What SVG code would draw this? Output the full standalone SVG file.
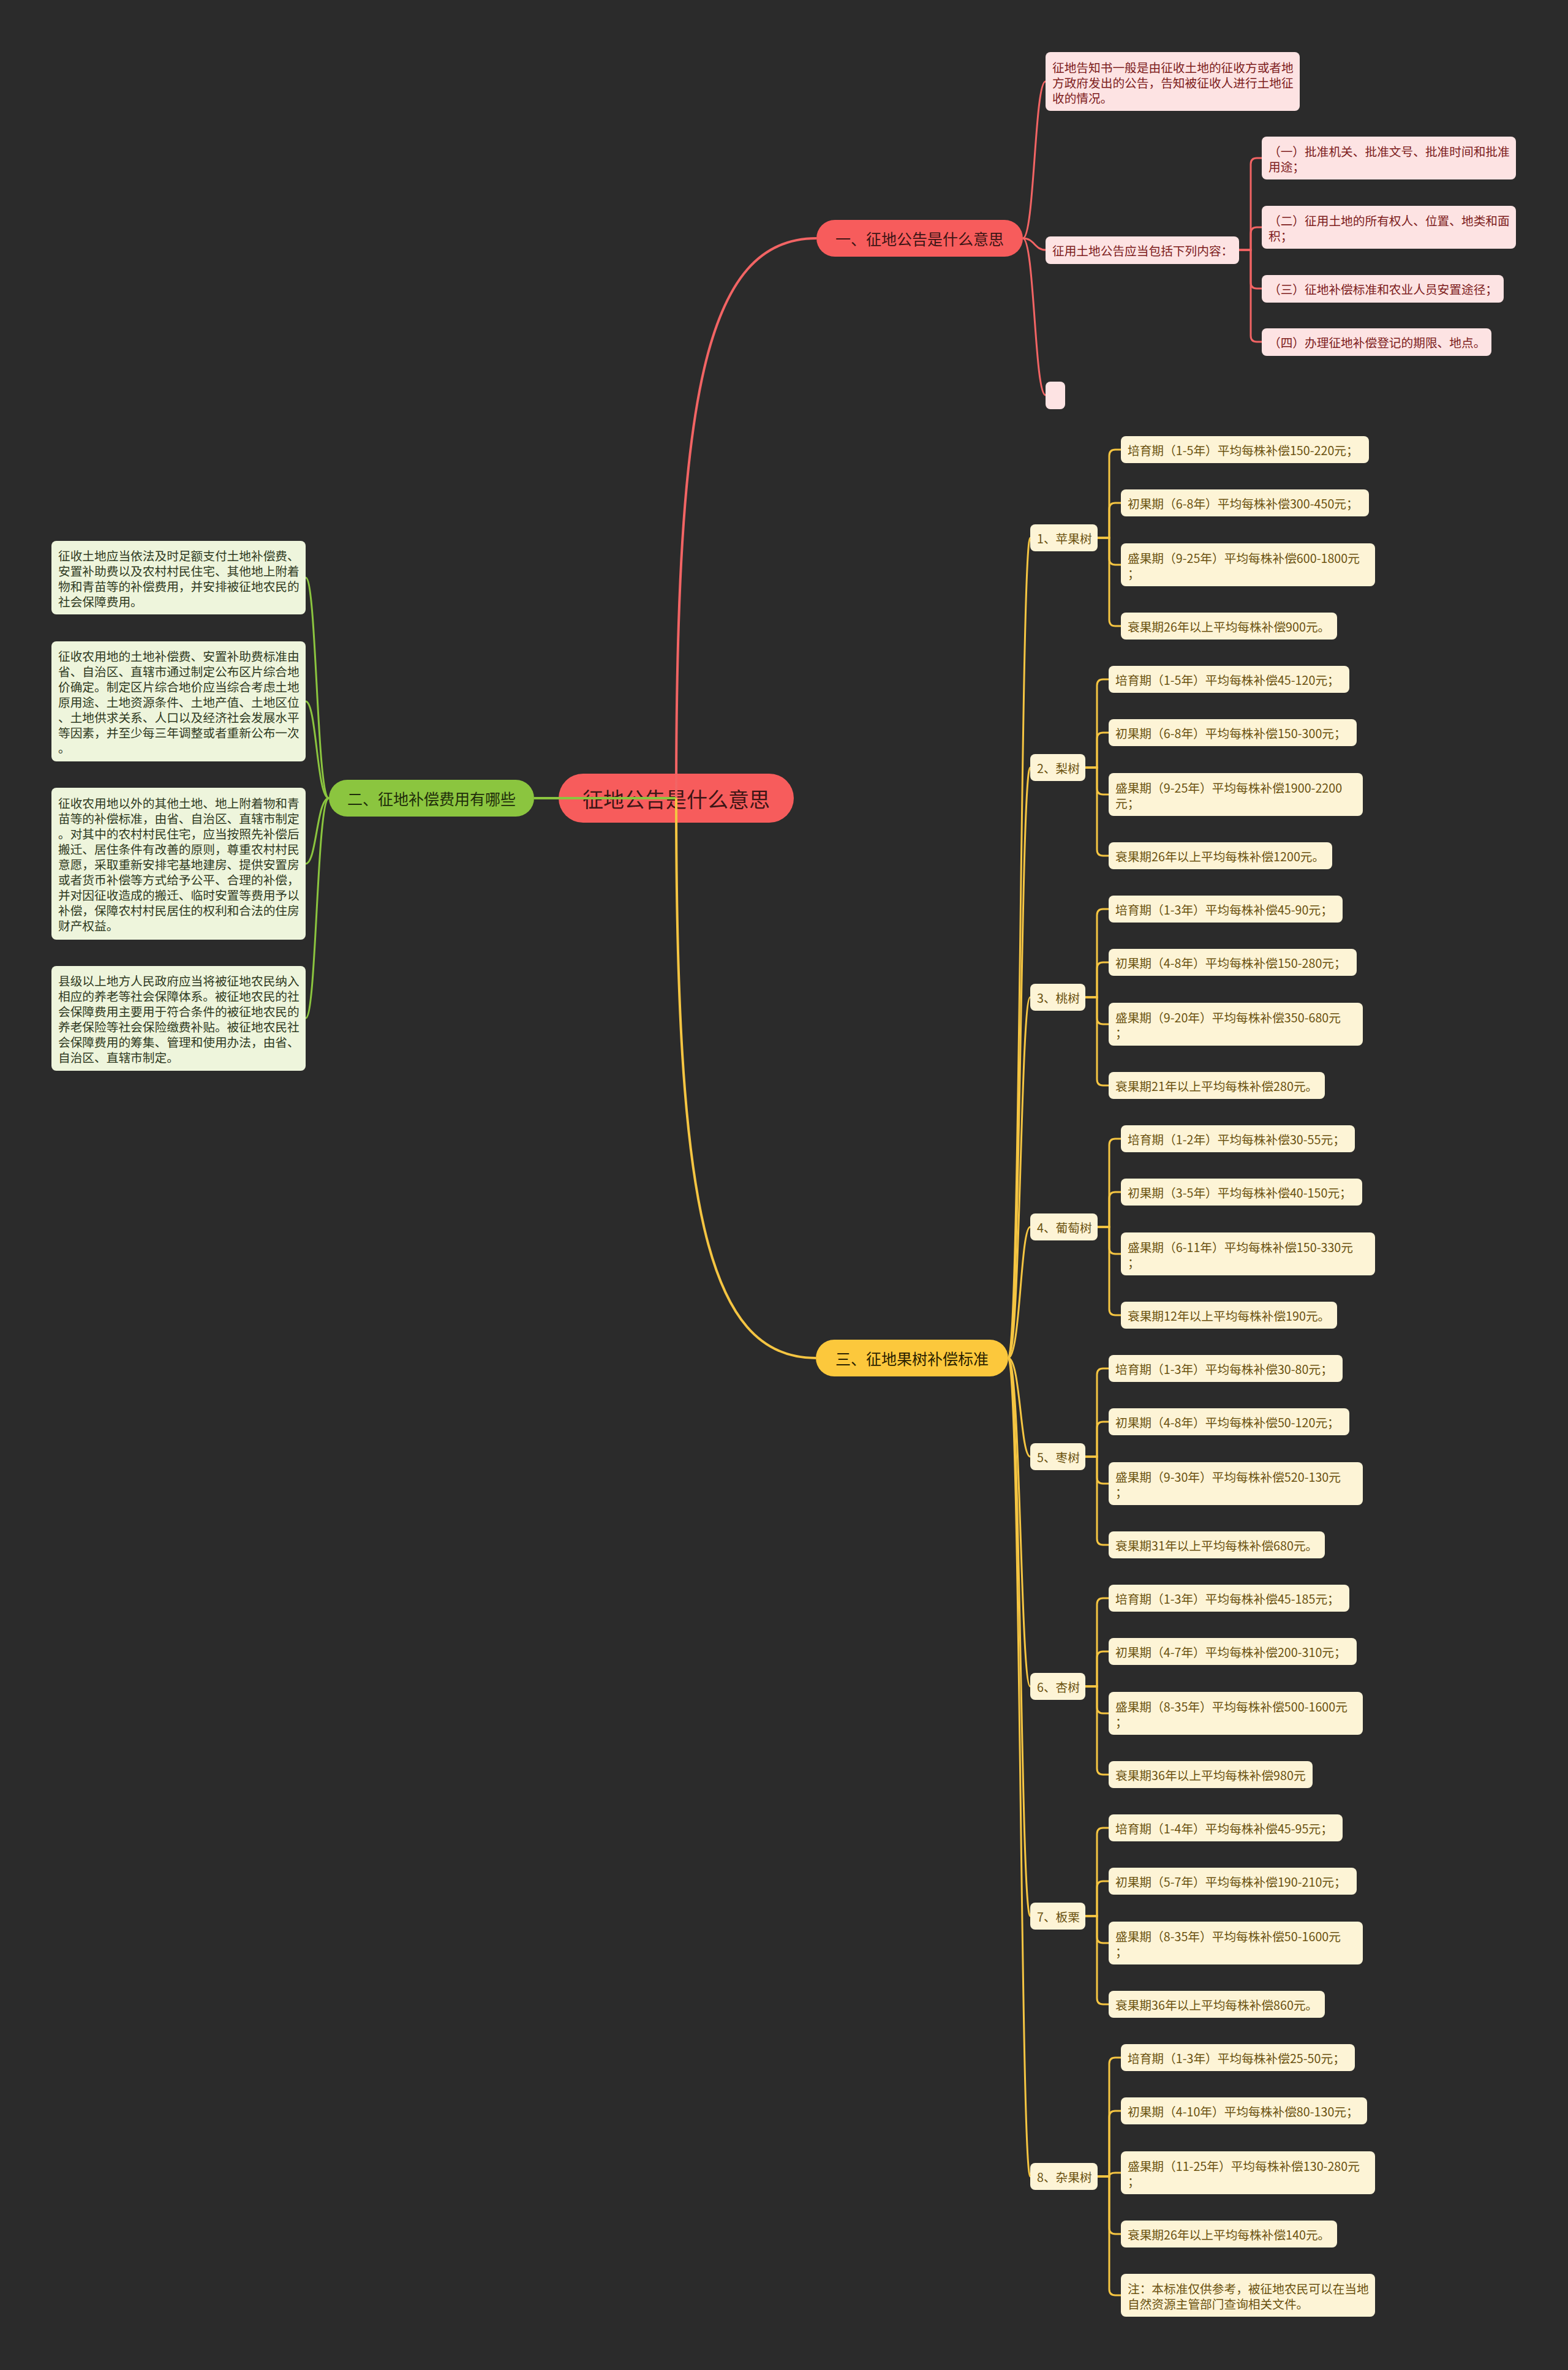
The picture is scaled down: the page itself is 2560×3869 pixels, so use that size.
<svg xmlns="http://www.w3.org/2000/svg" width="2560" height="3869" viewBox="0 0 2560 3869">
<style>
.t{font-family:"Noto Sans CJK SC","Noto Sans",sans-serif;dominant-baseline:central}
.s{font-size:19.7px}
.rb{fill:#fde3e3}.rt{fill:#7d2020}
.gb{fill:#eef5dc}.gt{fill:#2f3a22}
.yb{fill:#fdf4d6}.yt{fill:#6b5210}
.cr{fill:none;stroke:#f26464;stroke-width:3}
.cg{fill:none;stroke:#8bc53f;stroke-width:3}
.cy{fill:none;stroke:#f5c542;stroke-width:3}
.m{stroke-width:4}
</style>
<rect width="2560" height="3869" fill="#2b2b2b"/>

<g id="root"><rect x="912" y="1263" width="384" height="80" rx="40" fill="#f75c5c"/><text class="t" x="1104" y="1303" font-size="34" text-anchor="middle" fill="#3d1515">征地公告是什么意思</text></g>

<g id="b1"><rect x="1333" y="359" width="337" height="60" rx="30" fill="#f75c5c"/><text class="t" x="1501.5" y="389" font-size="25" text-anchor="middle" fill="#3d1515">一、征地公告是什么意思</text></g>
<g id="b2"><rect x="537" y="1273" width="335" height="60" rx="30" fill="#8bc53f"/><text class="t" x="704.5" y="1303" font-size="25" text-anchor="middle" fill="#1f2d0a">二、征地补偿费用有哪些</text></g>
<g id="b3"><rect x="1332" y="2187" width="314" height="60" rx="30" fill="#fcc83c"/><text class="t" x="1489" y="2217" font-size="25" text-anchor="middle" fill="#2b2200">三、征地果树补偿标准</text></g>

<g id="r1"><rect class="rb" x="1707" y="85" width="415" height="96" rx="8"/><text class="t s rt" x="1718"><tspan x="1718" y="108.5">征地告知书一般是由征收土地的征收方或者地</tspan><tspan x="1718" y="133.5">方政府发出的公告，告知被征收人进行土地征</tspan><tspan x="1718" y="158.5">收的情况。</tspan></text></g>
<g id="r2"><rect class="rb" x="1707" y="386" width="316" height="45" rx="8"/><text class="t s rt" x="1718" y="408.5">征用土地公告应当包括下列内容：</text></g>
<g id="r3"><rect class="rb" x="1707" y="623" width="32" height="45" rx="8"/></g>
<g id="r21"><rect class="rb" x="2060" y="223" width="415" height="70" rx="8"/><text class="t s rt"><tspan x="2071" y="246">（一）批准机关、批准文号、批准时间和批准</tspan><tspan x="2071" y="271">用途；</tspan></text></g>
<g id="r22"><rect class="rb" x="2060" y="336" width="415" height="70" rx="8"/><text class="t s rt"><tspan x="2071" y="359">（二）征用土地的所有权人、位置、地类和面</tspan><tspan x="2071" y="384">积；</tspan></text></g>
<g id="r23"><rect class="rb" x="2060" y="449" width="395" height="45" rx="8"/><text class="t s rt" x="2071" y="471.5">（三）征地补偿标准和农业人员安置途径；</text></g>
<g id="r24"><rect class="rb" x="2060" y="536" width="375" height="45" rx="8"/><text class="t s rt" x="2071" y="558.5">（四）办理征地补偿登记的期限、地点。</text></g>

<g id="g1"><rect class="gb" x="84" y="883" width="415" height="120" rx="8"/><text class="t s gt"><tspan x="95" y="906">征收土地应当依法及时足额支付土地补偿费、</tspan><tspan x="95" y="931">安置补助费以及农村村民住宅、其他地上附着</tspan><tspan x="95" y="956">物和青苗等的补偿费用，并安排被征地农民的</tspan><tspan x="95" y="981">社会保障费用。</tspan></text></g>
<g id="g2"><rect class="gb" x="84" y="1047" width="415" height="196" rx="8"/><text class="t s gt"><tspan x="95" y="1070">征收农用地的土地补偿费、安置补助费标准由</tspan><tspan x="95" y="1095">省、自治区、直辖市通过制定公布区片综合地</tspan><tspan x="95" y="1120">价确定。制定区片综合地价应当综合考虑土地</tspan><tspan x="95" y="1145">原用途、土地资源条件、土地产值、土地区位</tspan><tspan x="95" y="1170">、土地供求关系、人口以及经济社会发展水平</tspan><tspan x="95" y="1195">等因素，并至少每三年调整或者重新公布一次</tspan><tspan x="95" y="1220">。</tspan></text></g>
<g id="g3"><rect class="gb" x="84" y="1286" width="415" height="248" rx="8"/><text class="t s gt"><tspan x="95" y="1310">征收农用地以外的其他土地、地上附着物和青</tspan><tspan x="95" y="1335">苗等的补偿标准，由省、自治区、直辖市制定</tspan><tspan x="95" y="1360">。对其中的农村村民住宅，应当按照先补偿后</tspan><tspan x="95" y="1385">搬迁、居住条件有改善的原则，尊重农村村民</tspan><tspan x="95" y="1410">意愿，采取重新安排宅基地建房、提供安置房</tspan><tspan x="95" y="1435">或者货币补偿等方式给予公平、合理的补偿，</tspan><tspan x="95" y="1460">并对因征收造成的搬迁、临时安置等费用予以</tspan><tspan x="95" y="1485">补偿，保障农村村民居住的权利和合法的住房</tspan><tspan x="95" y="1510">财产权益。</tspan></text></g>
<g id="g4"><rect class="gb" x="84" y="1577" width="415" height="171" rx="8"/><text class="t s gt"><tspan x="95" y="1600">县级以上地方人民政府应当将被征地农民纳入</tspan><tspan x="95" y="1625">相应的养老等社会保障体系。被征地农民的社</tspan><tspan x="95" y="1650">会保障费用主要用于符合条件的被征地农民的</tspan><tspan x="95" y="1675">养老保险等社会保险缴费补贴。被征地农民社</tspan><tspan x="95" y="1700">会保障费用的筹集、管理和使用办法，由省、</tspan><tspan x="95" y="1725">自治区、直辖市制定。</tspan></text></g>

<g id="c1"><rect class="yb" x="1682" y="856" width="110" height="44" rx="8"/><text class="t s yt" x="1693" y="878">1、苹果树</text></g>
<g id="c1i1"><rect class="yb" x="1830" y="712" width="405" height="44" rx="8"/><text class="t s yt" x="1841" y="734">培育期（1-5年）平均每株补偿150-220元；</text></g>
<g id="c1i2"><rect class="yb" x="1830" y="799" width="405" height="44" rx="8"/><text class="t s yt" x="1841" y="821">初果期（6-8年）平均每株补偿300-450元；</text></g>
<g id="c1i3"><rect class="yb" x="1830" y="887" width="415" height="70" rx="8"/><text class="t s yt"><tspan x="1841" y="910">盛果期（9-25年）平均每株补偿600-1800元</tspan><tspan x="1841" y="935">；</tspan></text></g>
<g id="c1i4"><rect class="yb" x="1830" y="1000" width="353" height="44" rx="8"/><text class="t s yt" x="1841" y="1022">衰果期26年以上平均每株补偿900元。</text></g>

<g id="c2"><rect class="yb" x="1682" y="1231" width="90" height="44" rx="8"/><text class="t s yt" x="1693" y="1253">2、梨树</text></g>
<g id="c2i1"><rect class="yb" x="1810" y="1087" width="393" height="44" rx="8"/><text class="t s yt" x="1821" y="1109">培育期（1-5年）平均每株补偿45-120元；</text></g>
<g id="c2i2"><rect class="yb" x="1810" y="1174" width="405" height="44" rx="8"/><text class="t s yt" x="1821" y="1196">初果期（6-8年）平均每株补偿150-300元；</text></g>
<g id="c2i3"><rect class="yb" x="1810" y="1262" width="415" height="70" rx="8"/><text class="t s yt"><tspan x="1821" y="1285">盛果期（9-25年）平均每株补偿1900-2200</tspan><tspan x="1821" y="1310">元；</tspan></text></g>
<g id="c2i4"><rect class="yb" x="1810" y="1375" width="365" height="44" rx="8"/><text class="t s yt" x="1821" y="1397">衰果期26年以上平均每株补偿1200元。</text></g>

<g id="c3"><rect class="yb" x="1682" y="1606" width="90" height="44" rx="8"/><text class="t s yt" x="1693" y="1628">3、桃树</text></g>
<g id="c3i1"><rect class="yb" x="1810" y="1462" width="382" height="44" rx="8"/><text class="t s yt" x="1821" y="1484">培育期（1-3年）平均每株补偿45-90元；</text></g>
<g id="c3i2"><rect class="yb" x="1810" y="1549" width="405" height="44" rx="8"/><text class="t s yt" x="1821" y="1571">初果期（4-8年）平均每株补偿150-280元；</text></g>
<g id="c3i3"><rect class="yb" x="1810" y="1637" width="415" height="70" rx="8"/><text class="t s yt"><tspan x="1821" y="1660">盛果期（9-20年）平均每株补偿350-680元</tspan><tspan x="1821" y="1685">；</tspan></text></g>
<g id="c3i4"><rect class="yb" x="1810" y="1750" width="353" height="44" rx="8"/><text class="t s yt" x="1821" y="1772">衰果期21年以上平均每株补偿280元。</text></g>

<g id="c4"><rect class="yb" x="1682" y="1981" width="110" height="44" rx="8"/><text class="t s yt" x="1693" y="2003">4、葡萄树</text></g>
<g id="c4i1"><rect class="yb" x="1830" y="1837" width="382" height="44" rx="8"/><text class="t s yt" x="1841" y="1859">培育期（1-2年）平均每株补偿30-55元；</text></g>
<g id="c4i2"><rect class="yb" x="1830" y="1924" width="394" height="44" rx="8"/><text class="t s yt" x="1841" y="1946">初果期（3-5年）平均每株补偿40-150元；</text></g>
<g id="c4i3"><rect class="yb" x="1830" y="2012" width="415" height="70" rx="8"/><text class="t s yt"><tspan x="1841" y="2035">盛果期（6-11年）平均每株补偿150-330元</tspan><tspan x="1841" y="2060">；</tspan></text></g>
<g id="c4i4"><rect class="yb" x="1830" y="2125" width="353" height="44" rx="8"/><text class="t s yt" x="1841" y="2147">衰果期12年以上平均每株补偿190元。</text></g>

<g id="c5"><rect class="yb" x="1682" y="2356" width="90" height="44" rx="8"/><text class="t s yt" x="1693" y="2378">5、枣树</text></g>
<g id="c5i1"><rect class="yb" x="1810" y="2212" width="382" height="44" rx="8"/><text class="t s yt" x="1821" y="2234">培育期（1-3年）平均每株补偿30-80元；</text></g>
<g id="c5i2"><rect class="yb" x="1810" y="2299" width="393" height="44" rx="8"/><text class="t s yt" x="1821" y="2321">初果期（4-8年）平均每株补偿50-120元；</text></g>
<g id="c5i3"><rect class="yb" x="1810" y="2387" width="415" height="70" rx="8"/><text class="t s yt"><tspan x="1821" y="2410">盛果期（9-30年）平均每株补偿520-130元</tspan><tspan x="1821" y="2435">；</tspan></text></g>
<g id="c5i4"><rect class="yb" x="1810" y="2500" width="353" height="44" rx="8"/><text class="t s yt" x="1821" y="2522">衰果期31年以上平均每株补偿680元。</text></g>

<g id="c6"><rect class="yb" x="1682" y="2731" width="90" height="44" rx="8"/><text class="t s yt" x="1693" y="2753">6、杏树</text></g>
<g id="c6i1"><rect class="yb" x="1810" y="2587" width="393" height="44" rx="8"/><text class="t s yt" x="1821" y="2609">培育期（1-3年）平均每株补偿45-185元；</text></g>
<g id="c6i2"><rect class="yb" x="1810" y="2674" width="405" height="44" rx="8"/><text class="t s yt" x="1821" y="2696">初果期（4-7年）平均每株补偿200-310元；</text></g>
<g id="c6i3"><rect class="yb" x="1810" y="2762" width="415" height="70" rx="8"/><text class="t s yt"><tspan x="1821" y="2785">盛果期（8-35年）平均每株补偿500-1600元</tspan><tspan x="1821" y="2810">；</tspan></text></g>
<g id="c6i4"><rect class="yb" x="1810" y="2875" width="333" height="44" rx="8"/><text class="t s yt" x="1821" y="2897">衰果期36年以上平均每株补偿980元</text></g>

<g id="c7"><rect class="yb" x="1682" y="3106" width="90" height="44" rx="8"/><text class="t s yt" x="1693" y="3128">7、板栗</text></g>
<g id="c7i1"><rect class="yb" x="1810" y="2962" width="382" height="44" rx="8"/><text class="t s yt" x="1821" y="2984">培育期（1-4年）平均每株补偿45-95元；</text></g>
<g id="c7i2"><rect class="yb" x="1810" y="3049" width="405" height="44" rx="8"/><text class="t s yt" x="1821" y="3071">初果期（5-7年）平均每株补偿190-210元；</text></g>
<g id="c7i3"><rect class="yb" x="1810" y="3137" width="415" height="70" rx="8"/><text class="t s yt"><tspan x="1821" y="3160">盛果期（8-35年）平均每株补偿50-1600元</tspan><tspan x="1821" y="3185">；</tspan></text></g>
<g id="c7i4"><rect class="yb" x="1810" y="3250" width="353" height="44" rx="8"/><text class="t s yt" x="1821" y="3272">衰果期36年以上平均每株补偿860元。</text></g>

<g id="c8"><rect class="yb" x="1682" y="3531" width="110" height="44" rx="8"/><text class="t s yt" x="1693" y="3553">8、杂果树</text></g>
<g id="c8i1"><rect class="yb" x="1830" y="3337" width="382" height="44" rx="8"/><text class="t s yt" x="1841" y="3359">培育期（1-3年）平均每株补偿25-50元；</text></g>
<g id="c8i2"><rect class="yb" x="1830" y="3424" width="402" height="44" rx="8"/><text class="t s yt" x="1841" y="3446">初果期（4-10年）平均每株补偿80-130元；</text></g>
<g id="c8i3"><rect class="yb" x="1830" y="3512" width="415" height="70" rx="8"/><text class="t s yt"><tspan x="1841" y="3535">盛果期（11-25年）平均每株补偿130-280元</tspan><tspan x="1841" y="3560">；</tspan></text></g>
<g id="c8i4"><rect class="yb" x="1830" y="3625" width="353" height="44" rx="8"/><text class="t s yt" x="1841" y="3647">衰果期26年以上平均每株补偿140元。</text></g>
<g id="c8i5"><rect class="yb" x="1830" y="3712" width="415" height="70" rx="8"/><text class="t s yt"><tspan x="1841" y="3735">注：本标准仅供参考，被征地农民可以在当地</tspan><tspan x="1841" y="3760">自然资源主管部门查询相关文件。</tspan></text></g>

<g id="connectors">
<path class="cr m" d="M1104 1303C1104 650 1150 389 1333 389"/>
<path class="cg m" d="M1104 1303H872"/>
<path class="cy m" d="M1104 1303C1104 1956 1150 2217 1332 2217"/>

<path class="cr" d="M1670 389C1689 389 1689 133 1707 133"/>
<path class="cr" d="M1670 389C1689 389 1689 408 1707 408"/>
<path class="cr" d="M1670 389C1689 389 1689 645 1707 645"/>
<path class="cr" d="M2023 408H2042V268Q2042 258 2052 258H2060"/>
<path class="cr" d="M2023 408H2042V381Q2042 371 2052 371H2060"/>
<path class="cr" d="M2023 408H2042V461Q2042 471 2052 471H2060"/>
<path class="cr" d="M2023 408H2042V548Q2042 558 2052 558H2060"/>

<path class="cg" d="M537 1303C517 1303 517 943 499 943"/>
<path class="cg" d="M537 1303C517 1303 517 1145 499 1145"/>
<path class="cg" d="M537 1303C517 1303 517 1410 499 1410"/>
<path class="cg" d="M537 1303C517 1303 517 1662 499 1662"/>

<path class="cy" d="M1646 2217C1666 2217 1666 878 1682 878"/>
<path class="cy" d="M1646 2217C1666 2217 1666 1253 1682 1253"/>
<path class="cy" d="M1646 2217C1666 2217 1666 1628 1682 1628"/>
<path class="cy" d="M1646 2217C1666 2217 1666 2003 1682 2003"/>
<path class="cy" d="M1646 2217C1666 2217 1666 2378 1682 2378"/>
<path class="cy" d="M1646 2217C1666 2217 1666 2753 1682 2753"/>
<path class="cy" d="M1646 2217C1666 2217 1666 3128 1682 3128"/>
<path class="cy" d="M1646 2217C1666 2217 1666 3553 1682 3553"/>

<path class="cy" d="M1792 878H1811V744Q1811 734 1821 734H1830"/>
<path class="cy" d="M1792 878H1811V831Q1811 821 1821 821H1830"/>
<path class="cy" d="M1792 878H1811V912Q1811 922 1821 922H1830"/>
<path class="cy" d="M1792 878H1811V1012Q1811 1022 1821 1022H1830"/>

<path class="cy" d="M1772 1253H1791V1119Q1791 1109 1801 1109H1810"/>
<path class="cy" d="M1772 1253H1791V1206Q1791 1196 1801 1196H1810"/>
<path class="cy" d="M1772 1253H1791V1287Q1791 1297 1801 1297H1810"/>
<path class="cy" d="M1772 1253H1791V1387Q1791 1397 1801 1397H1810"/>

<path class="cy" d="M1772 1628H1791V1494Q1791 1484 1801 1484H1810"/>
<path class="cy" d="M1772 1628H1791V1581Q1791 1571 1801 1571H1810"/>
<path class="cy" d="M1772 1628H1791V1662Q1791 1672 1801 1672H1810"/>
<path class="cy" d="M1772 1628H1791V1762Q1791 1772 1801 1772H1810"/>

<path class="cy" d="M1792 2003H1811V1869Q1811 1859 1821 1859H1830"/>
<path class="cy" d="M1792 2003H1811V1956Q1811 1946 1821 1946H1830"/>
<path class="cy" d="M1792 2003H1811V2037Q1811 2047 1821 2047H1830"/>
<path class="cy" d="M1792 2003H1811V2137Q1811 2147 1821 2147H1830"/>

<path class="cy" d="M1772 2378H1791V2244Q1791 2234 1801 2234H1810"/>
<path class="cy" d="M1772 2378H1791V2331Q1791 2321 1801 2321H1810"/>
<path class="cy" d="M1772 2378H1791V2412Q1791 2422 1801 2422H1810"/>
<path class="cy" d="M1772 2378H1791V2512Q1791 2522 1801 2522H1810"/>

<path class="cy" d="M1772 2753H1791V2619Q1791 2609 1801 2609H1810"/>
<path class="cy" d="M1772 2753H1791V2706Q1791 2696 1801 2696H1810"/>
<path class="cy" d="M1772 2753H1791V2787Q1791 2797 1801 2797H1810"/>
<path class="cy" d="M1772 2753H1791V2887Q1791 2897 1801 2897H1810"/>

<path class="cy" d="M1772 3128H1791V2994Q1791 2984 1801 2984H1810"/>
<path class="cy" d="M1772 3128H1791V3081Q1791 3071 1801 3071H1810"/>
<path class="cy" d="M1772 3128H1791V3162Q1791 3172 1801 3172H1810"/>
<path class="cy" d="M1772 3128H1791V3262Q1791 3272 1801 3272H1810"/>

<path class="cy" d="M1792 3553H1811V3369Q1811 3359 1821 3359H1830"/>
<path class="cy" d="M1792 3553H1811V3456Q1811 3446 1821 3446H1830"/>
<path class="cy" d="M1792 3553H1811Q1811 3547 1821 3547H1830"/>
<path class="cy" d="M1792 3553H1811V3637Q1811 3647 1821 3647H1830"/>
<path class="cy" d="M1792 3553H1811V3737Q1811 3747 1821 3747H1830"/>
</g>
</svg>
